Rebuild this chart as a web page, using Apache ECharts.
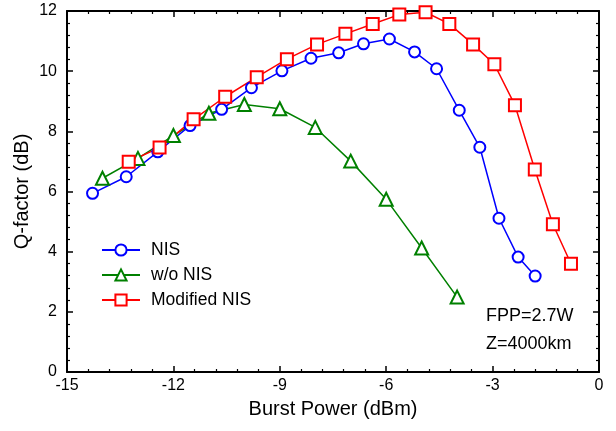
<!DOCTYPE html>
<html><head><meta charset="utf-8">
<script src="https://cdn.jsdelivr.net/npm/echarts@6/dist/echarts.min.js"></script>
<style>html,body{margin:0;padding:0;background:#fff}#c{width:616px;height:431px}</style>
</head><body><div id="c"></div>
<script>
const nisX = [-14.28,-13.33,-12.44,-11.53,-10.64,-9.80,-8.94,-8.12,-7.34,-6.64,-5.91,-5.20,-4.58,-3.94,-3.36,-2.82,-2.28,-1.80];
const nisY = [5.94,6.49,7.32,8.19,8.73,9.45,10.01,10.43,10.61,10.91,11.07,10.64,10.08,8.70,7.47,5.11,3.82,3.19];
const woX = [-14,-13,-12,-11,-10,-9,-8,-7,-6,-5,-4];
const woY = [6.44,7.10,7.86,8.60,8.89,8.75,8.13,7.01,5.74,4.12,2.49];
const modX = [-13.26,-12.39,-11.43,-10.54,-9.65,-8.80,-7.95,-7.15,-6.38,-5.63,-4.89,-4.22,-3.55,-2.95,-2.37,-1.81,-1.30,-0.79];
const modY = [6.99,7.46,8.40,9.15,9.80,10.40,10.89,11.24,11.57,11.88,11.96,11.57,10.89,10.23,8.87,6.73,4.91,3.60];
const seriesNames = ['NIS','w/o NIS','Modified NIS'];
const xTicks = [-15,-12,-9,-6,-3,0];
const yTicks = [0,2,4,6,8,10,12];

const zip = (a,b)=>a.map((v,i)=>[v,b[i]]);
const font = 'Liberation Sans, Arial, sans-serif';
const axisCommon = {
  axisLine:{show:true,onZero:false,lineStyle:{color:'#000',width:2}},
  axisTick:{show:true,inside:true,length:6,lineStyle:{color:'#000',width:1.5}},
  minorTick:{show:true,splitNumber:5,length:3,lineStyle:{color:'#000',width:1.2}},
  splitLine:{show:false}
};
const chart = echarts.init(document.getElementById('c'));
chart.setOption({
  animation:false,
  backgroundColor:'#fff',
  grid:{left:67,right:17,top:11,bottom:59},
  xAxis:[
    Object.assign({type:'value',min:xTicks[0],max:xTicks[xTicks.length-1],interval:3,position:'bottom',
      name:'Burst Power (dBm)',nameLocation:'middle',nameGap:27,nameMoveOverlap:false,
      nameTextStyle:{fontFamily:font,fontSize:20,color:'#000'},
      axisLabel:{fontFamily:font,fontSize:16,color:'#000',margin:6}},axisCommon),
    Object.assign({type:'value',min:-15,max:0,interval:3,position:'top',axisLabel:{show:false}},axisCommon)
  ],
  yAxis:[
    Object.assign({type:'value',min:yTicks[0],max:yTicks[yTicks.length-1],interval:2,position:'left',
      name:'Q-factor (dB)',nameLocation:'middle',nameGap:35,nameMoveOverlap:false,
      nameTextStyle:{fontFamily:font,fontSize:20,color:'#000'},
      axisLabel:{fontFamily:font,fontSize:16,color:'#000',margin:10}},axisCommon),
    Object.assign({type:'value',min:0,max:12,interval:2,position:'right',axisLabel:{show:false}},axisCommon)
  ],
  legend:{
    orient:'vertical',left:101,top:241,padding:0,itemWidth:38,itemHeight:14,itemGap:7,
    textStyle:{fontFamily:font,fontSize:17.5,lineHeight:18,color:'#000',padding:[0,0,0,6]},
    data:seriesNames
  },
  series:[
    {name:seriesNames[0],type:'line',data:zip(nisX,nisY),symbol:'emptyCircle',symbolSize:11,
     lineStyle:{color:'#0000ff',width:1.5},itemStyle:{color:'#0000ff',borderWidth:1.5}},
    {name:seriesNames[1],type:'line',data:zip(woX,woY),symbol:'emptyTriangle',symbolSize:13,
     lineStyle:{color:'#008000',width:1.5},itemStyle:{color:'#008000',borderWidth:1.5}},
    {name:seriesNames[2],type:'line',data:zip(modX,modY),symbol:'emptyRect',symbolSize:12,
     lineStyle:{color:'#ff0000',width:1.5},itemStyle:{color:'#ff0000',borderWidth:1.5}}
  ],
  graphic:[
    {type:'text',left:486,top:307,style:{text:'FPP=2.7W',fontFamily:font,fontSize:18,fill:'#000'}},
    {type:'text',left:486,top:335,style:{text:'Z=4000km',fontFamily:font,fontSize:18,fill:'#000'}}
  ]
});
</script></body></html>
